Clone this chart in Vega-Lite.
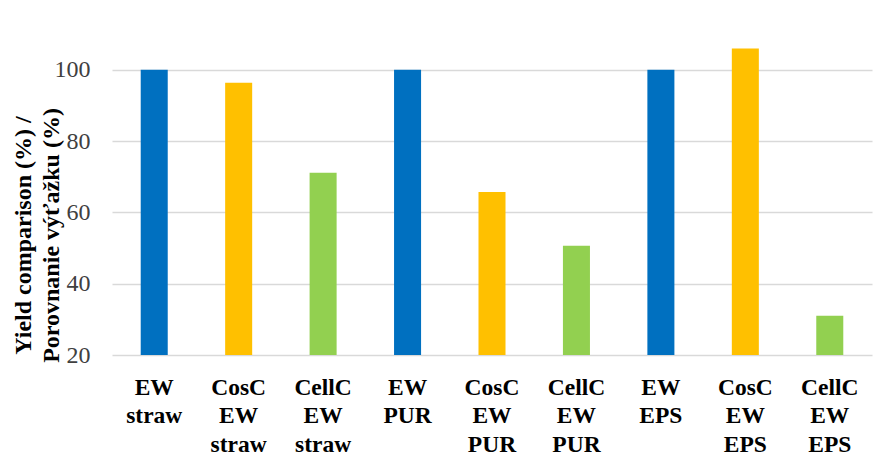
{
  "$schema": "https://vega.github.io/schema/vega-lite/v6.json",
  "width": 760,
  "height": 321,
  "autosize": {"type": "none"},
  "padding": {"left": 112, "top": 34, "right": 9, "bottom": 116},
  "background": "white",
  "config": {"view": {"stroke": null}, "font": "Liberation Serif"},
  "data": {
    "values": [
      {"label": "EW straw", "type": "EW", "value": 100},
      {"label": "CosC EW straw", "type": "CosC", "value": 96.3},
      {"label": "CellC EW straw", "type": "CellC", "value": 71.1},
      {"label": "EW PUR", "type": "EW", "value": 100},
      {"label": "CosC EW PUR", "type": "CosC", "value": 65.7},
      {"label": "CellC EW PUR", "type": "CellC", "value": 50.6},
      {"label": "EW EPS", "type": "EW", "value": 100},
      {"label": "CosC EW EPS", "type": "CosC", "value": 105.9},
      {"label": "CellC EW EPS", "type": "CellC", "value": 31}
    ]
  },
  "mark": {"type": "bar", "width": {"band": 0.32}},
  "encoding": {
    "x": {
      "field": "label",
      "type": "nominal",
      "sort": null,
      "scale": {"paddingInner": 0, "paddingOuter": 0},
      "axis": {
        "title": null,
        "labelAngle": 0,
        "domain": false,
        "ticks": false,
        "labelExpr": "split(datum.label, ' ')",
        "labelFont": "Liberation Serif",
        "labelFontSize": 23.5,
        "labelFontWeight": "bold",
        "labelColor": "#000000",
        "labelLineHeight": 28.5,
        "labelBaseline": "top",
        "labelPadding": 20
      }
    },
    "y": {
      "field": "value",
      "type": "quantitative",
      "scale": {"domain": [20, 110], "nice": false, "zero": false},
      "axis": {
        "values": [20, 40, 60, 80, 100],
        "title": ["Yield comparison (%) /", "Porovnanie výťažku (%)"],
        "titleFont": "Liberation Serif",
        "titleFontSize": 24,
        "titleFontWeight": "bold",
        "titleColor": "#000000",
        "titleLineHeight": 28,
        "titleX": -77,
        "titleY": 201,
        "titleAnchor": null,
        "domain": false,
        "ticks": false,
        "labelFont": "Liberation Serif",
        "labelFontSize": 24,
        "labelColor": "#404040",
        "labelPadding": 22,
        "grid": true,
        "gridColor": "#d9d9d9",
        "gridWidth": 1.5
      }
    },
    "y2": {"datum": 20},
    "color": {
      "field": "type",
      "type": "nominal",
      "scale": {"domain": ["EW", "CosC", "CellC"], "range": ["#0070C0", "#FFC000", "#92D050"]},
      "legend": null
    }
  }
}
